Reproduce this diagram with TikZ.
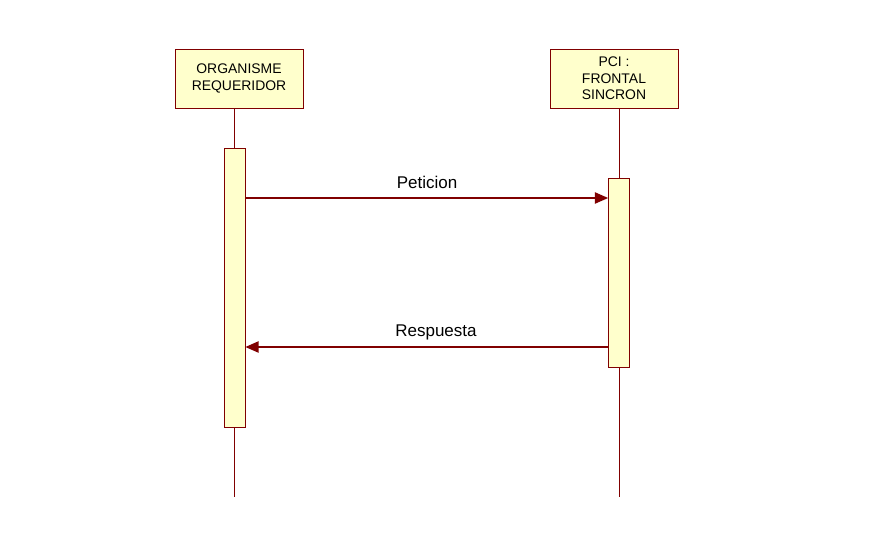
\documentclass[tikz,border=0pt]{standalone}
\usepackage{fontspec}
\setmainfont{Liberation Sans}
\usepackage{tikz}
\usetikzlibrary{positioning,calc,arrows.meta}
\definecolor{seqRed}{RGB}{128,0,0}
\definecolor{seqFill}{RGB}{255,255,204}

\begin{document}
\begin{tikzpicture}[x=0.03cm, y=-0.03cm,
                % Style objet
                objbox/.style={draw=seqRed, semithick, fill=seqFill, minimum width=3.84cm, minimum height=1.77cm, font=\fontsize{11.9}{14}\selectfont, align=center, inner sep=0pt},
                % Style activation
                actbar/.style={draw=seqRed, semithick, fill=seqFill, minimum width=0.63cm, inner sep=0pt},
                % Style ligne de vie
                lifeline/.style={draw=seqRed, semithick},
                % Style message
                msg/.style={draw=seqRed, very thick, -{Triangle[length=4mm, width=3.4mm]}},
                % Style etiquette
                msglabel/.style={font=\fontsize{14.5}{16}\selectfont, text=black}
            ]
                \useasboundingbox (0,0) rectangle (883,554);

                % --- OBJETS ---
                \node[objbox] (org) at (239, 78.5) {ORGANISME\\REQUERIDOR};
                \node[objbox] (pci) at (614, 78.5) {PCI :\\FRONTAL\\SINCRON};

                % --- LIGNES DE VIE ---
                \coordinate (orgTop) at (234, 108);
                \coordinate (orgEnd) at (234, 497);
                \coordinate (pciTop) at (619, 108);
                \coordinate (pciEnd) at (619, 497);
                \draw[lifeline] (orgTop) -- (orgEnd);
                \draw[lifeline] (pciTop) -- (pciEnd);

                % --- ACTIVATIONS ---
                \node[actbar, minimum height=8.37cm] (orgAct) at (234.5, 287.5) {};
                \node[actbar, minimum height=5.67cm] (pciAct) at (619, 272.5) {};

                % --- MESSAGES ---
                \coordinate (reqFrom) at (orgAct.east |- 0,198);
                \coordinate (reqTo) at (pciAct.west |- 0,198);
                \draw[msg] (reqFrom) -- (reqTo);
                \node[msglabel] (reqLbl) at (427, 182) {Peticion};

                \coordinate (repFrom) at (pciAct.west |- 0,347);
                \coordinate (repTo) at (orgAct.east |- 0,347);
                \draw[msg] (repFrom) -- (repTo);
                \node[msglabel] (repLbl) at (436, 332) {Respuesta};

            \end{tikzpicture}
\end{document}
